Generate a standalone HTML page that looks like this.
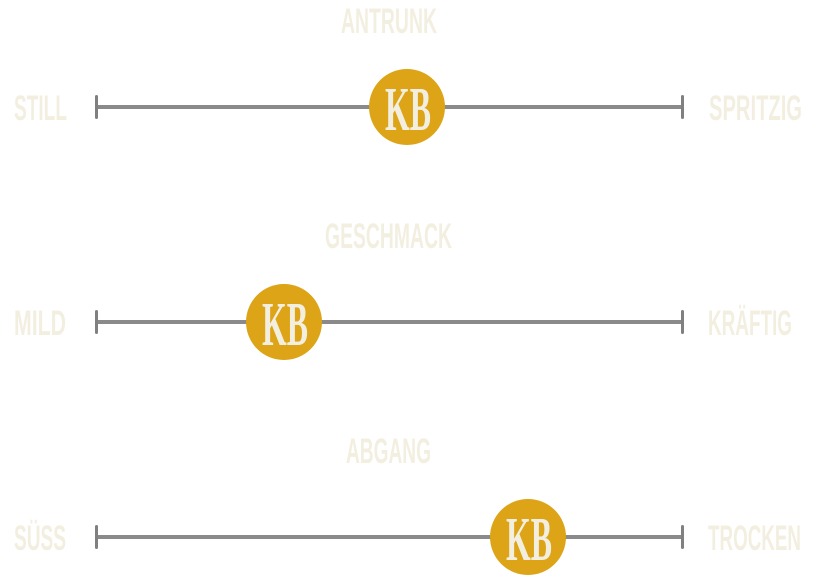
<!DOCTYPE html>
<html><head><meta charset="utf-8"><style>html,body{margin:0;padding:0;background:#fff}svg{display:block}</style></head>
<body>
<svg width="831" height="577" viewBox="0 0 831 577" xmlns="http://www.w3.org/2000/svg" font-family="'Liberation Sans Narrow','Liberation Sans',sans-serif" font-weight="bold">
<defs>
<g id="bar">
<rect x="96" y="-2" width="587" height="4" fill="#8a8a8a"/>
<rect x="95" y="-12" width="3" height="24" rx="1.5" fill="#808080"/>
<rect x="681" y="-12" width="3" height="24" rx="1.5" fill="#808080"/>
</g>
</defs>
<g fill="#f3efe0" font-size="35">
<text x="341" y="33" textLength="96" lengthAdjust="spacingAndGlyphs">ANTRUNK</text>
<text x="14" y="120" textLength="53" lengthAdjust="spacingAndGlyphs">STILL</text>
<text x="709" y="120" textLength="93" lengthAdjust="spacingAndGlyphs">SPRITZIG</text>
<text x="325" y="248" textLength="127" lengthAdjust="spacingAndGlyphs">GESCHMACK</text>
<text x="14" y="335" textLength="52" lengthAdjust="spacingAndGlyphs">MILD</text>
<text x="708" y="335" textLength="84" lengthAdjust="spacingAndGlyphs">KRÄFTIG</text>
<text x="346" y="463" textLength="85" lengthAdjust="spacingAndGlyphs">ABGANG</text>
<text x="14" y="550" textLength="52" lengthAdjust="spacingAndGlyphs">SÜSS</text>
<text x="708" y="550" textLength="93" lengthAdjust="spacingAndGlyphs">TROCKEN</text>
</g>
<use href="#bar" y="107"/>
<use href="#bar" y="322"/>
<use href="#bar" y="537"/>
<g fill="#dca416">
<circle cx="407" cy="107" r="38"/>
<circle cx="284" cy="322" r="38"/>
<circle cx="528" cy="537" r="38"/>
</g>
<g fill="#f3efe0" font-size="62" font-family="'Liberation Serif','Liberation Sans Narrow',serif">
<text x="385" y="130" textLength="46" lengthAdjust="spacingAndGlyphs">KB</text>
<text x="262" y="345" textLength="46" lengthAdjust="spacingAndGlyphs">KB</text>
<text x="506" y="560" textLength="46" lengthAdjust="spacingAndGlyphs">KB</text>
</g>
</svg>
</body></html>
